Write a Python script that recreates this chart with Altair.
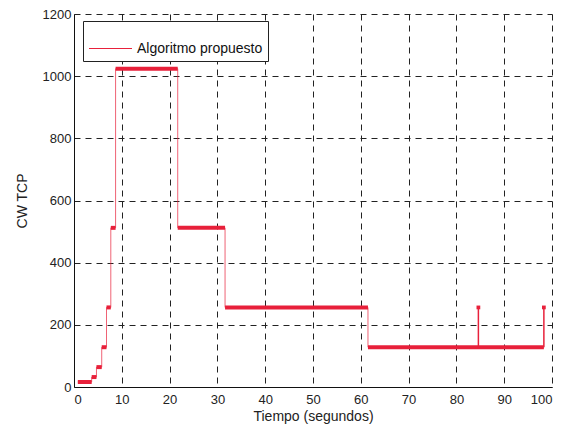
import altair as alt
import pandas as pd

# Change times (s) and congestion window values (step-after)
change_t = [0.8, 3.7, 4.7, 5.8, 6.8, 7.7, 8.7, 21.7, 31.6, 61.5, 98.3]
cw_vals = [16, 32, 64, 128, 256, 512, 1024, 512, 256, 128, 128]

# Short spikes up to 256 from the 128 level
spike_t = [84.6, 98.3]
spike_top = [256, 256]
spike_base = [128, 128]

series_name = "Algoritmo propuesto"
red = "#e8213b"

line_df = pd.DataFrame({"t": change_t, "cw": cw_vals, "serie": series_name})
level_df = pd.DataFrame({
    "t0": change_t[:-1],
    "t1": change_t[1:],
    "cw": cw_vals[:-1],
})
spike_df = pd.DataFrame({"t": spike_t, "top": spike_top, "base": spike_base})

x_scale = alt.Scale(domain=[0, 100], nice=False)
y_scale = alt.Scale(domain=[0, 1200], nice=False)

x_axis = alt.Axis(values=list(range(0, 101, 10)), title="Tiempo (segundos)",
                  format="d", labelPadding=6, titlePadding=3)
y_axis = alt.Axis(values=list(range(0, 1201, 200)), title="CW TCP",
                  format="d", labelPadding=3, titlePadding=13)

levels = alt.Chart(level_df).mark_rule(color=red, strokeWidth=4, strokeCap="butt").encode(
    x=alt.X("t0:Q", scale=x_scale, axis=x_axis),
    x2="t1:Q",
    y=alt.Y("cw:Q", scale=y_scale, axis=y_axis),
)

line = alt.Chart(line_df).mark_line(interpolate="step-after", strokeWidth=1,
                                    opacity=0.7).encode(
    x=alt.X("t:Q", scale=x_scale),
    y=alt.Y("cw:Q", scale=y_scale),
    color=alt.Color("serie:N", scale=alt.Scale(range=[red]),
                    legend=alt.Legend(title=None, orient="none", legendX=9, legendY=7,
                                      symbolType="stroke", symbolSize=1849,
                                      symbolStrokeWidth=1.2, symbolOpacity=1,
                                      labelOffset=4,
                                      strokeColor="#222", fillColor="white",
                                      padding=5, labelFontSize=14,
                                      labelFont="Liberation Sans", labelColor="#111")),
)

spikes = alt.Chart(spike_df).mark_rule(color=red, strokeWidth=1.5).encode(
    x=alt.X("t:Q", scale=x_scale),
    y=alt.Y("base:Q", scale=y_scale),
    y2="top:Q",
)

spike_pts = alt.Chart(spike_df).mark_point(shape="square", filled=True, color=red,
                                           size=14, opacity=1).encode(
    x=alt.X("t:Q", scale=x_scale),
    y=alt.Y("top:Q", scale=y_scale),
)

chart = alt.layer(levels, line, spikes, spike_pts).properties(
    width=478, height=373,
    autosize=alt.AutoSizeParams(type="none"),
    padding={"left": 66, "top": 6, "right": 9, "bottom": 37},
).configure_view(stroke=None).configure_axis(
    labelFont="Liberation Sans", labelFontSize=13, labelColor="#222",
    titleFont="Liberation Sans", titleFontSize=14, titleColor="#222",
    titleFontWeight="normal",
    domainColor="#111", domainWidth=1,
    gridColor="#222", gridDash=[6, 5], gridWidth=1, gridOpacity=1,
    ticks=False,
)

chart.save("out.html", embed_options={"renderer": "svg", "actions": False})
